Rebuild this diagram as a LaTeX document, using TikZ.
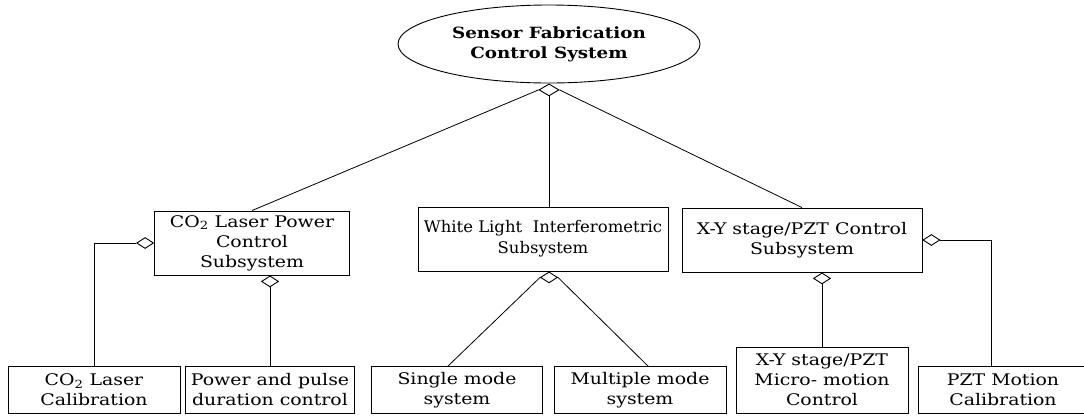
\documentclass[tikz,border=0pt]{standalone}
\usepackage{fontspec}
\setmainfont{DejaVu Serif}[FakeStretch=1.18]
\usetikzlibrary{shapes.geometric, positioning}

\begin{document}
\begin{tikzpicture}[
    x=1pt, y=-1pt,
    line width=0.9pt,
    box/.style={draw, align=center, inner sep=2pt, font=\fontsize{16}{20}\selectfont},
    agg/.style={draw, diamond, fill=white, inner sep=0pt, minimum width=17pt, minimum height=11pt},
    link/.style={line width=0.8pt}
  ]
    \useasboundingbox (0,0) rectangle (1084,416);
    \node[draw, ellipse, minimum width=302pt, minimum height=78pt, align=center, font=\bfseries\fontsize{15.5}{20}\selectfont] (top) at (549,44) {Sensor Fabrication\\Control System};
    \node[agg, minimum width=20pt, minimum height=12pt, below=0pt of top] (topd) {};

    \node[box, minimum width=195pt, minimum height=64pt] (co2) at (252,243) {CO\textsubscript{2} Laser Power\\Control\\Subsystem};
    \node[box, minimum width=250pt, minimum height=64pt, font=\fontsize{16}{21}\selectfont\addfontfeature{FakeStretch=1.03}] (wli) at (543,239) {White Light\ \ Interferometric\\Subsystem};
    \node[box, minimum width=240pt, minimum height=64pt] (xy) at (802,240) {X-Y stage/PZT Control\\Subsystem};

    \node[box, minimum width=172pt, minimum height=47pt] (cal) at (94,390) {CO\textsubscript{2} Laser\\Calibration};
    \node[box, minimum width=169pt, minimum height=47pt] (pwr) at (270,390) {Power and pulse\\duration control};
    \node[box, minimum width=171pt, minimum height=47pt] (sgl) at (457,390) {Single mode\\system};
    \node[box, minimum width=172pt, minimum height=47pt] (mul) at (640,390) {Multiple mode\\system};
    \node[box, minimum width=172pt, minimum height=66pt] (mic) at (822,380) {X-Y stage/PZT\\Micro- motion\\Control};
    \node[box, minimum width=170pt, minimum height=47pt] (pzt) at (1003,390) {PZT Motion\\Calibration};

    % aggregation diamonds
    \node[agg, left=0pt of co2] (co2d) {};
    \node[agg, anchor=north] (pwrd) at (pwr.north |- co2.south) {};
    \node[agg, anchor=north] (wlid) at (topd.south |- wli.south) {};
    \node[agg, anchor=north] (micd) at (mic.north |- xy.south) {};
    \node[agg, right=0pt of xy] (xyd) {};

    \draw[link] (topd.west) -- (co2.north);
    \draw[link] (topd.south) -- (topd.south |- wli.north);
    \draw[link] (topd.east) -- (xy.north);
    \draw[link] (co2d.west) -| (cal.north);
    \draw[link] (pwrd.south) -- (pwr.north);
    \draw[link] (wlid.west) -- ([xshift=-9pt]sgl.north);
    \draw[link] (wlid.east) -- ([xshift=8pt]mul.north);
    \draw[link] (micd.south) -- (mic.north);
    \draw[link] (xyd.east) -| ([xshift=-12pt]pzt.north);
\end{tikzpicture}
\end{document}
